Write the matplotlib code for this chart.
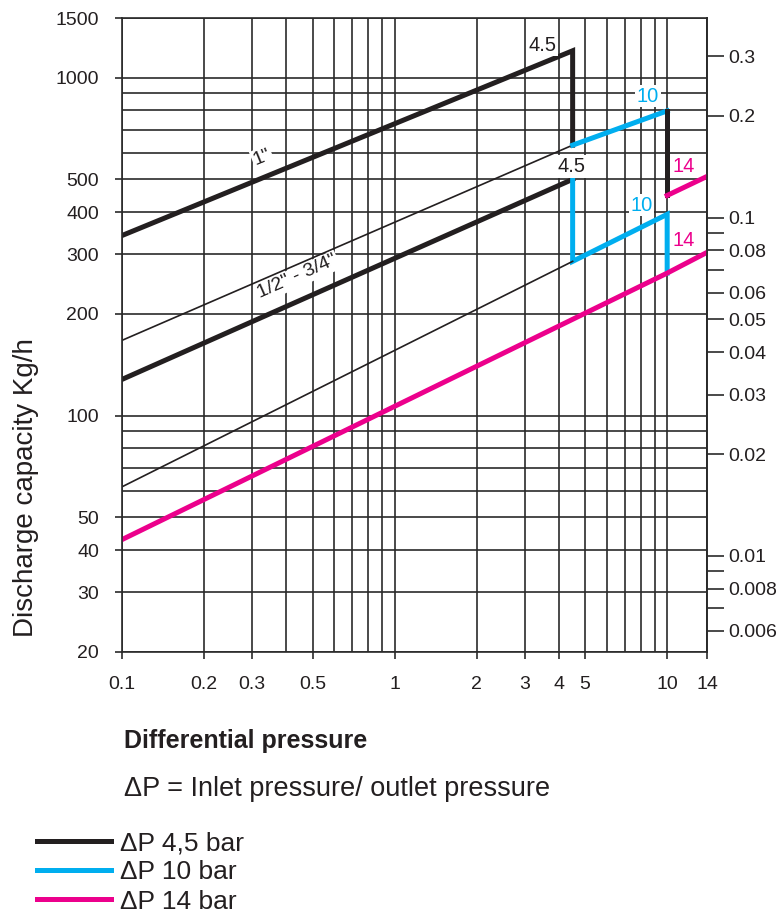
import math
import matplotlib
matplotlib.use("Agg")
import matplotlib.pyplot as plt
from matplotlib.ticker import NullFormatter

plt.rcParams["font.family"] = ["Liberation Sans", "DejaVu Sans"]

BLACK = "#231f20"
BLUE = "#00aeef"
PINK = "#ec008c"
GRID = "#2a2a2a"

# differential pressure (bar) / discharge capacity (kg/h)
one_inch_45_x = [0.1, 4.5, 4.5]
one_inch_45_y = [341, 1200, 631]
one_inch_thin_x = [0.1, 4.5]
one_inch_thin_y = [167, 631]
one_inch_10_x = [4.5, 10]
one_inch_10_y = [631, 797]
one_inch_drop_x = [10, 10]
one_inch_drop_y = [797, 448]
one_inch_14_x = [10, 14]
one_inch_14_y = [448, 510]

half_45_x = [0.1, 4.5]
half_45_y = [128, 500]
half_10_x = [4.5, 4.5, 10, 10]
half_10_y = [500, 286, 394, 264]
half_thin_x = [0.1, 4.5]
half_thin_y = [61.6, 286]
half_14_x = [0.1, 10, 14]
half_14_y = [43, 264, 304]

x_ticks = [0.1, 0.2, 0.3, 0.5, 1, 2, 3, 4, 5, 10, 14]
x_ticklabels = ["0.1", "0.2", "0.3", "0.5", "1", "2", "3", "4", "5", "10", "14"]
x_minor = [0.4, 0.6, 0.7, 0.8, 0.9, 6, 7, 8, 9]
y_ticks = [20, 30, 40, 50, 100, 200, 300, 400, 500, 1000, 1500]
y_minor = [60, 70, 80, 90, 600, 700, 800, 900]
right_ticks = [0.3, 0.2, 0.1, 0.08, 0.06, 0.05, 0.04, 0.03, 0.02, 0.01, 0.008, 0.006]
right_minor = [0.09, 0.07, 0.009, 0.007]
right_ratio = 3850

# pressure markers at the ends of the segments
mark_text = ["4.5", "10", "14", "4.5", "10", "14"]
mark_x = [3.5, 8.5, 11.5, 4.47, 8.05, 11.5]
mark_y = [1245, 880, 546, 546, 419, 329]
mark_color = [BLACK, BLUE, PINK, BLACK, BLUE, PINK]

legend_labels = ["ΔP 4,5 bar", "ΔP 10 bar", "ΔP 14 bar"]

W, H = 781, 918
fig = plt.figure(figsize=(W / 100, H / 100), dpi=100)
ax = fig.add_axes([122 / W, (H - 652) / H, (707 - 122) / W, (652 - 18) / H])
ax.set_xscale("log")
ax.set_yscale("log")
ax.set_xlim(0.1, 14)
ax.set_ylim(20, 1500)

ax.set_xticks(x_ticks, x_ticklabels)
ax.set_xticks(x_minor, minor=True)
ax.set_yticks(y_ticks, [str(v) for v in y_ticks])
ax.set_yticks(y_minor, minor=True)
ax.xaxis.set_minor_formatter(NullFormatter())
ax.yaxis.set_minor_formatter(NullFormatter())
ax.tick_params(which="major", direction="out", length=5, width=1.2, color=GRID,
               labelsize=14, labelcolor=BLACK)
ax.tick_params(axis="x", which="major", pad=12.5)
ax.tick_params(axis="y", which="major", pad=11.5)
ax.tick_params(which="minor", length=0)
ax.grid(True, which="both", color=GRID, lw=1.2)
ax.set_axisbelow(True)
for s in ax.spines.values():
    s.set_color(GRID)
    s.set_linewidth(1.2)

sec = ax.secondary_yaxis("right", functions=(lambda v: v / right_ratio,
                                             lambda v: v * right_ratio))
sec.set_yticks(right_ticks, [str(v) for v in right_ticks])
sec.set_yticks(right_minor, minor=True)
sec.yaxis.set_minor_formatter(NullFormatter())
sec.tick_params(which="both", direction="out", length=12, width=1.2, color=GRID,
                labelsize=14, labelcolor=BLACK, pad=3.5)
sec.spines["right"].set_color(GRID)
sec.spines["right"].set_linewidth(1.2)

thick = 3.6
thin = 1.2
l45, = ax.plot(one_inch_45_x, one_inch_45_y, color=BLACK, lw=thick, solid_joinstyle="miter")
ax.plot(one_inch_thin_x, one_inch_thin_y, color=BLACK, lw=thin)
l10, = ax.plot(one_inch_10_x, one_inch_10_y, color=BLUE, lw=thick)
ax.plot(one_inch_drop_x, one_inch_drop_y, color=BLACK, lw=thick)
l14, = ax.plot(one_inch_14_x, one_inch_14_y, color=PINK, lw=thick)

ax.plot(half_45_x, half_45_y, color=BLACK, lw=thick)
ax.plot(half_10_x, half_10_y, color=BLUE, lw=thick, solid_joinstyle="miter")
ax.plot(half_thin_x, half_thin_y, color=BLACK, lw=thin)
ax.plot(half_14_x, half_14_y, color=PINK, lw=thick)


def slope_deg(xs, ys):
    p0 = ax.transData.transform((xs[0], ys[0]))
    p1 = ax.transData.transform((xs[1], ys[1]))
    return math.degrees(math.atan2(p1[1] - p0[1], p1[0] - p0[0]))


box = dict(boxstyle="square,pad=0.08", fc="white", ec="none")
ax.text(0.327, 580, '1"', fontsize=14, color=BLACK, rotation=slope_deg(one_inch_45_x, one_inch_45_y),
        ha="center", va="center", rotation_mode="anchor", bbox=box)
ax.text(0.44, 257, '1/2" - 3/4"', fontsize=14, color=BLACK, rotation=slope_deg(half_45_x, half_45_y),
        ha="center", va="center", rotation_mode="anchor", bbox=box)

for t, x, y, c in zip(mark_text, mark_x, mark_y, mark_color):
    ax.text(x, y, t, fontsize=14.5, color=c, ha="center", va="center", bbox=box)

fig.text(26 / W, 1 - 488 / H, "Discharge capacity Kg/h", rotation=90, fontsize=20,
         color=BLACK, ha="center", va="center")
fig.text(124 / W, 1 - 748 / H, "Differential pressure", fontsize=18, fontweight="bold",
         color=BLACK, ha="left", va="baseline")
fig.text(124 / W, 1 - 796 / H, "ΔP = Inlet pressure/ outlet pressure", fontsize=19.5,
         color=BLACK, ha="left", va="baseline")

fig.legend([l45, l10, l14], legend_labels, loc="upper left",
           bbox_to_anchor=(37 / W, 1 - 831 / H), frameon=False, borderpad=0,
           borderaxespad=0, handlelength=2.8, handletextpad=0.33, labelspacing=0.2,
           prop=dict(family="Liberation Sans", size=19), labelcolor=BLACK)

fig.savefig("out.png", dpi=100)
